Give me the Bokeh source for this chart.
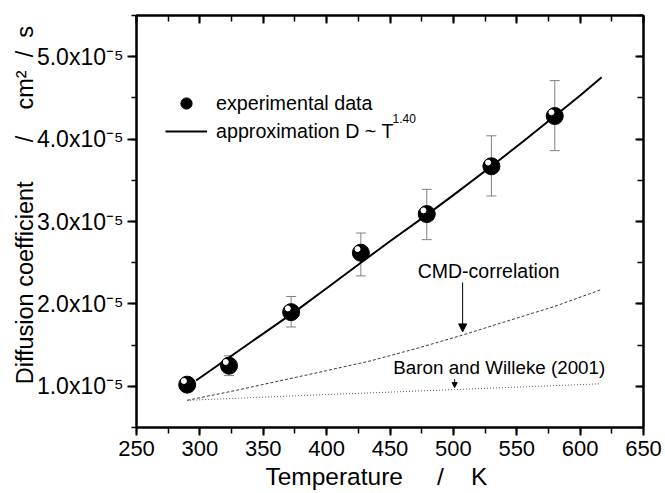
from bokeh.plotting import figure
from bokeh.models import (Range1d, LinearAxis, SingleIntervalTicker, ColumnDataSource,
                          Whisker, TeeHead, Label, Arrow, NormalHead, CustomJSTickFormatter,
                          Legend, LegendItem)
from bokeh.transform import dodge
from bokeh.embed import file_html
from bokeh.resources import INLINE

# ---- data (D in units of 1e-5 cm^2/s, T in K) ----
T_exp = [290, 323, 372, 427, 479, 530, 580]
D_exp = [1.02, 1.25, 1.90, 2.62, 3.09, 3.67, 4.28]
D_lo = [0.98, 1.13, 1.72, 2.34, 2.78, 3.31, 3.86]
D_hi = [1.06, 1.37, 2.09, 2.86, 3.39, 4.04, 4.71]

T_fit = [297, 323, 350, 378, 400, 427, 450, 479, 500, 530, 555, 580, 600, 617]
D_fit = [1.07, 1.35, 1.64, 1.94, 2.19, 2.50, 2.76, 3.08, 3.32, 3.67, 3.97, 4.28, 4.53, 4.75]

T_cmd = [290, 330, 370, 400, 435, 470, 507, 540, 580, 616]
D_cmd = [0.83, 0.955, 1.09, 1.19, 1.31, 1.455, 1.62, 1.78, 1.97, 2.17]

T_bw = [290, 400, 501, 616]
D_bw = [0.83, 0.90, 0.96, 1.03]

x_ticks_interval = 50
y_ticks_interval = 1

FONT = "Liberation Sans"
NB = "\u00a0"

p = figure(width=665, height=493, x_range=Range1d(250, 650), y_range=Range1d(0.5, 5.5),
           output_backend="svg", toolbar_location=None,
           min_border_left=136, min_border_right=22, min_border_top=15, min_border_bottom=66)
p.xgrid.visible = False
p.ygrid.visible = False
p.outline_line_color = "black"
p.outline_line_width = 2
p.background_fill_color = "white"
p.border_fill_color = "white"

xt = SingleIntervalTicker(interval=x_ticks_interval, num_minor_ticks=2)
yt = SingleIntervalTicker(interval=y_ticks_interval, num_minor_ticks=2)

xa = p.xaxis[0]
xa.ticker = xt
xa.axis_line_width = 2
xa.major_tick_line_width = 2
xa.minor_tick_line_width = 1.5
xa.major_tick_out = 8
xa.major_tick_in = 0
xa.minor_tick_out = 6
xa.minor_tick_in = 0
xa.major_label_text_font = FONT
xa.major_label_text_font_size = "22px"
xa.major_label_text_color = "black"
xa.major_label_standoff = 5
xa.axis_label = "Temperature" + NB * 5 + "/" + NB * 4 + "K" + NB * 4
xa.axis_label_text_font = FONT
xa.axis_label_text_font_size = "24.5px"
xa.axis_label_text_font_style = "normal"
xa.axis_label_text_color = "black"
xa.axis_label_standoff = 4

ya = p.yaxis[0]
ya.ticker = yt
ya.axis_line_width = 2
ya.major_tick_line_width = 2
ya.minor_tick_line_width = 1.5
ya.major_tick_out = 9
ya.major_tick_in = 0
ya.minor_tick_out = 5
ya.minor_tick_in = 0
ya.major_label_text_font = FONT
ya.major_label_text_font_size = "23px"
ya.major_label_text_color = "black"
ya.major_label_standoff = 4
ya.formatter = CustomJSTickFormatter(code="return tick.toFixed(1) + 'x10\u207b\u2075'")
ya.axis_label = (NB * 5 + "Diffusion coefficient" + NB * 6 + "/" + NB * 4 +
                 "cm\u00b2" + NB * 2 + "/" + NB * 2 + "s")
ya.axis_label_text_font = FONT
ya.axis_label_text_font_size = "23.5px"
ya.axis_label_text_font_style = "normal"
ya.axis_label_text_color = "black"
ya.axis_label_standoff = -4

for loc in ("above", "right"):
    ax = LinearAxis(ticker=SingleIntervalTicker(interval=x_ticks_interval if loc == "above" else y_ticks_interval,
                                                num_minor_ticks=2))
    ax.axis_line_width = 2
    ax.major_tick_line_width = 2
    ax.minor_tick_line_width = 1.5
    ax.major_tick_in = 8
    ax.major_tick_out = 0
    ax.minor_tick_in = 6
    ax.minor_tick_out = 0
    ax.formatter = CustomJSTickFormatter(code="return ''")
    ax.major_label_standoff = 0
    p.add_layout(ax, loc)

# curves
p.line(T_cmd, D_cmd, line_color="#3a3a3a", line_width=1, line_dash="3 2")
p.line(T_bw, D_bw, line_color="#555555", line_width=1, line_dash="1 2")
fit = p.line(T_fit, D_fit, line_color="black", line_width=2)

src = ColumnDataSource(dict(T=T_exp, D=D_exp, lo=D_lo, hi=D_hi))
wh = Whisker(source=src, base="T", lower="lo", upper="hi", line_color="#808080", line_width=1,
             upper_head=TeeHead(size=10, line_color="#808080", line_width=1),
             lower_head=TeeHead(size=10, line_color="#808080", line_width=1),
             level="underlay")
p.add_layout(wh)

dots = p.scatter("T", "D", source=src, size=17, fill_color="black", line_color="black")
p.scatter(x=dodge("T", -2.6), y=dodge("D", 0.045), source=src, size=5,
          fill_color="white", line_color="white")

legend = Legend(items=[LegendItem(label="experimental data", renderers=[dots]),
                       LegendItem(label="approximation D ~ T", renderers=[fit])],
                location=(29, 282), orientation="vertical",
                glyph_width=42, glyph_height=28, label_height=28, spacing=0,
                label_standoff=9, padding=0, margin=0,
                border_line_color=None, background_fill_alpha=0,
                label_text_font=FONT, label_text_font_size="19.7px", label_text_color="black")
p.add_layout(legend)


def lab(x, y, text, size, align="center"):
    p.add_layout(Label(x=x, y=y, text=text, text_font=FONT, text_font_size=size,
                       text_color="black", text_align=align, text_baseline="middle"))


lab(452.0, 4.256, "1.40", "12px", align="left")
lab(527.8, 2.40, "CMD-correlation", "19.5px")
lab(536.2, 1.223, "Baron and Willeke (2001)", "18.8px")

p.add_layout(Arrow(x_start=507.3, y_start=2.26, x_end=507.3, y_end=1.66, line_width=1,
                   line_color="black",
                   end=NormalHead(size=8, fill_color="black", line_color="black", line_width=1)))
p.add_layout(Arrow(x_start=501, y_start=1.085, x_end=501, y_end=0.985, line_width=1,
                   line_color="black",
                   end=NormalHead(size=5, fill_color="black", line_color="black", line_width=1)))

open("out.html", "w").write(file_html(p, INLINE))
